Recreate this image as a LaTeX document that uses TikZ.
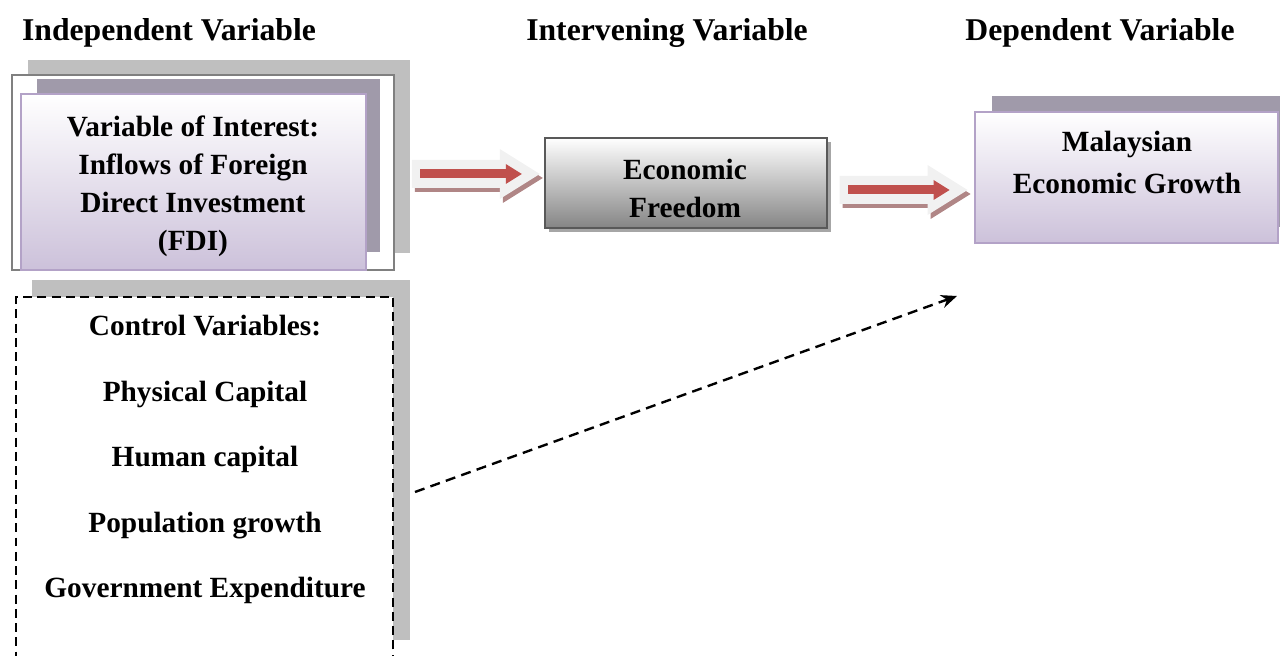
\documentclass[tikz,border=0pt,12pt]{standalone}
\usepackage{fontspec}
\setmainfont{Liberation Serif}
\usetikzlibrary{calc,arrows.meta}
\definecolor{shadegray}{RGB}{191,191,191}
\definecolor{plumshade}{RGB}{160,154,170}
\definecolor{lavend}{RGB}{204,193,218}
\definecolor{lavedge}{RGB}{179,162,199}
\definecolor{arrowred}{RGB}{192,80,77}
\definecolor{arrowshade}{RGB}{176,134,134}
\definecolor{arrowbody}{RGB}{241,241,241}
\newcommand{\fatarrow}[1]{%
	\begin{scope}[shift={#1}]
		\fill[arrowshade] (-61,-10) -- (27,-10) -- (27,-21) -- (67,4) -- (27,29) -- (27,18) -- (-61,18) -- cycle;
		\fill[arrowbody] (-64,-14) -- (24,-14) -- (24,-25) -- (64,0) -- (24,25) -- (24,14) -- (-64,14) -- cycle;
		\fill[arrowred] (-56,-4.5) rectangle (31,4.5);
		\fill[arrowred] (30,-10) -- (46,0) -- (30,10) -- cycle;
	\end{scope}}

\begin{document}
\begin{tikzpicture}[x=0.01331cm, y=-0.01331cm,
		every node/.style={font=\bfseries, align=center},
		boxtext/.style={font=\fontsize{11.1pt}{14.4pt}\selectfont\bfseries},
		lavbox/.style={draw=lavedge, line width=0.8pt, top color=white, bottom color=lavend, inner sep=0pt},
		greybox/.style={draw=black!65, line width=0.9pt, top color=white, bottom color=black!48, inner sep=0pt}]
		%%%%% START %%%%%
		\useasboundingbox (0,0) rectangle (1280,656);
		\clip (0,0) rectangle (1280,656);
		
		% headings
		\node (indep) at (169,33) {Independent Variable};
		\node (interv) at (667,33) {Intervening Variable};
		\node (dep) at (1100,33) {Dependent Variable};
		
		% variable of interest
		\fill[shadegray] (28,60) rectangle (410,253);
		\node[draw=black!50, fill=white, line width=0.6pt, minimum width=5.08cm, minimum height=2.60cm, inner sep=0pt] (fdiframe) at (203,172.5) {};
		\fill[plumshade] (37,79) rectangle (380,252);
		\node[lavbox, minimum width=4.59cm, minimum height=2.34cm] (fdi) at (193.5,182) {};
		\node[boxtext] (fditext) at (193,186) {Variable of Interest:\\Inflows of Foreign\\Direct Investment\\(FDI)};
		
		% economic freedom
		\fill[black!35] (549,142) rectangle (831,232);
		\node[greybox, minimum width=3.75cm, minimum height=1.20cm] (ef) at (686,183) {};
		\node[boxtext] (eftext) at (685,188) {Economic\\Freedom};
		
		% malaysian growth
		\fill[plumshade] (992,96) rectangle (1290,227);
		\node[lavbox, minimum width=4.03cm, minimum height=1.74cm] (mg) at (1126.5,177.5) {};
		\node[boxtext] (mgtext) at (1127,162.5) {Malaysian\\[1.2pt]Economic Growth};
		
		% control variables
		\fill[shadegray] (32,280) rectangle (410,640);
		\node[draw, fill=white, dash pattern=on 3.4pt off 2pt, line width=0.75pt, minimum width=5.02cm, minimum height=5.36cm, inner sep=0pt] (ctrl) at (204.5,498.5) {};
		\node[boxtext] (ctrltext) at (205,459.5) {Control Variables:\\[10.4pt]Physical Capital\\[10.4pt]Human capital\\[10.4pt]Population growth\\[10.4pt]Government Expenditure};
		
		% arrows
		\fatarrow{($(fdiframe.east)!0.5!(ef.west)+(6.5,-3.75)$)}
		\fatarrow{($(ef.east)!0.5!(mg.west)+(2.5,9.75)$)}
		
		\coordinate (ctrlout) at (415,492);
		\coordinate (mgin) at (957,296);
		\draw[line width=0.9pt, dash pattern=on 3.8pt off 2.4pt, -{Stealth[length=6pt, width=5pt]}] (ctrlout) -- (mgin);
		%%%%% END %%%%%
	\end{tikzpicture}
\end{document}
